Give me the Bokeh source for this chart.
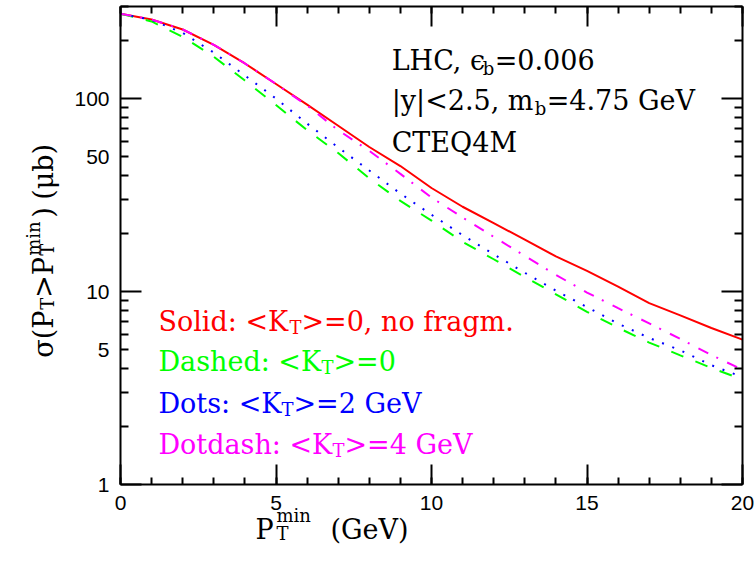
import math
from bokeh.plotting import figure
from bokeh.models import (FixedTicker, LinearAxis, Label, BasicTickFormatter, Range1d,
                          CustomLabelingPolicy, Grid)
from bokeh.embed import file_html
from bokeh.resources import INLINE

# ---------------- data ----------------
pt_min = [0, 1, 2, 3, 4, 5, 6, 7, 8, 9, 10, 11, 12, 13, 14, 15, 16, 17, 18, 19, 20]
sigma_solid = [275, 257, 228, 190, 152, 119, 93, 72.3, 56.1, 44.7, 34.4, 27.5, 22.6,
               18.6, 15.2, 12.8, 10.6, 8.71, 7.53, 6.47, 5.63]
sigma_dashed = [275, 251, 209, 164.8, 124, 92.6, 68.6, 52.2, 38.6, 29.5, 23.3, 18.1,
                14.7, 11.9, 9.67, 7.85, 6.49, 5.44, 4.67, 4.02, 3.50]
sigma_dots = [275, 256, 219, 173, 131.7, 100, 74.2, 55.8, 42.4, 32.2, 25.0, 19.6,
              15.6, 12.5, 10.1, 8.31, 6.82, 5.75, 4.96, 4.15, 3.60]
sigma_dotdash = [275, 257, 228, 190, 152, 119, 92, 68.6, 53.6, 40.7, 30.7, 24.2,
                 19.2, 15.3, 12.2, 9.88, 8.2, 6.84, 5.68, 4.69, 3.93]

x_major = [0, 5, 10, 15, 20]
x_minor = list(range(0, 21))
y_major = [1, 10, 100]
y_minor_labeled = [5, 50]
y_minor_plain = [2, 3, 4, 6, 7, 8, 9, 20, 30, 40, 60, 70, 80, 90, 200, 300]

# plot box limits
X_LO, X_HI = 0, 20
Y_LO, Y_HI = 1, 300

SERIF = "DejaVu Serif"
TICK_FONT = "Liberation Sans"

W, H = 755, 562
PAD_L, PAD_R, PAD_T, PAD_B = 120, 13, 6, 78
px_per_x = (W - PAD_L - PAD_R) / (X_HI - X_LO)
px_per_dec = (H - PAD_T - PAD_B) / math.log10(Y_HI / Y_LO)
xr = Range1d(X_LO - PAD_L / px_per_x, X_HI + PAD_R / px_per_x)
yr = Range1d(Y_LO * 10 ** (-PAD_B / px_per_dec), Y_HI * 10 ** (PAD_T / px_per_dec))

p = figure(width=W, height=H, x_range=xr, y_range=yr, y_axis_type="log",
           x_axis_location=None, y_axis_location=None,
           output_backend="svg", toolbar_location=None, min_border=0,
           background_fill_color="white", border_fill_color="white")
p.outline_line_color = None
for g in p.select(type=Grid):
    g.visible = False
    g.grid_line_color = None
    g.minor_grid_line_color = None

HIDE_ALL = "for (const i of indices) { indices.unset(i) }\nreturn indices"


def make_axis(side, loc, bounds, ticks, minor, major_in, minor_in,
              labels=True, line=True):
    ax = LinearAxis(ticker=FixedTicker(ticks=ticks, minor_ticks=minor),
                    formatter=BasicTickFormatter(), fixed_location=loc, bounds=bounds)
    ax.axis_line_color = "black" if line else None
    ax.axis_line_width = 2
    ax.major_tick_in = major_in
    ax.major_tick_out = 0
    ax.minor_tick_in = minor_in
    ax.minor_tick_out = 0
    ax.major_tick_line_width = 2
    ax.minor_tick_line_width = 2
    ax.major_tick_line_color = "black"
    ax.minor_tick_line_color = "black"
    ax.major_label_text_font = TICK_FONT
    ax.major_label_text_font_size = "21px"
    ax.major_label_text_color = "black"
    ax.major_label_standoff = 11
    if not labels:
        ax.major_label_policy = CustomLabelingPolicy(code=HIDE_ALL)
    p.add_layout(ax, side)
    return ax


# bottom / top (x)
make_axis("below", Y_LO, (X_LO, X_HI), x_major, x_minor, 20, 7)
make_axis("above", Y_HI, (X_LO, X_HI), x_major, x_minor, 20, 7, labels=False)
# left (y)
make_axis("left", X_LO, (Y_LO, Y_HI), y_major, [], 21, 0)
make_axis("left", X_LO, (Y_LO, Y_HI), y_minor_labeled, [], 8, 0, line=False)
make_axis("left", X_LO, (Y_LO, Y_HI), y_minor_plain, [], 8, 0, labels=False, line=False)
# right (y)
make_axis("right", X_HI, (Y_LO, Y_HI), y_major, [], 21, 0, labels=False)
make_axis("right", X_HI, (Y_LO, Y_HI), y_minor_labeled + y_minor_plain, [], 8, 0,
          labels=False, line=False)

# ---------------- curves ----------------
p.line(pt_min, sigma_solid, line_color="#ff0000", line_width=2)
p.line(pt_min, sigma_dashed, line_color="#00ff00", line_width=2, line_dash="13 13")
p.line(pt_min, sigma_dots, line_color="#0000ff", line_width=2, line_dash="2 9")
p.line(pt_min, sigma_dotdash, line_color="#ff00ff", line_width=2, line_dash="11 9 2 10")


# ---------------- texts ----------------
def put(x, y, text, color="black", size=27, dx=0, dy=0, angle=0.0):
    p.add_layout(Label(x=x, y=y, text=text, text_color=color, text_font=SERIF,
                       text_font_size=f"{size}px", text_baseline="alphabetic",
                       text_align="left", x_offset=dx, y_offset=dy, angle=angle))


SUB = 18
# top right block
put(8.72, 157.7, "LHC, \u03f5")
put(8.72, 157.7, "b", size=SUB, dx=91, dy=-8)
put(8.72, 157.7, "=0.006", dx=103)
put(8.72, 97.8, "|y|<2.5, m")
put(8.72, 97.8, "b", size=SUB, dx=143, dy=-8)
put(8.72, 97.8, "=4.75 GeV", dx=155)
put(8.72, 59.4, "CTEQ4M")

# legend block
legend_rows = [
    ("Solid: <K", ">=0, no fragm.", "#ff0000", 6.97, 130),
    ("Dashed: <K", ">=0", "#00ff00", 4.32, 162),
    ("Dots: <K", ">=2 GeV", "#0000ff", 2.64, 122),
    ("Dotdash: <K", ">=4 GeV", "#ff00ff", 1.617, 173),
]
for head, tail, col, yy, w in legend_rows:
    put(1.22, yy, head, color=col)
    put(1.22, yy, "T", color=col, size=SUB, dx=w + 1, dy=-6)
    put(1.22, yy, tail, color=col, dx=w + 13)

# x axis title
put(4.34, 0.5875, "P")
put(4.34, 0.5875, "T", size=SUB, dx=21, dy=-4)
put(4.34, 0.5875, "min", size=SUB, dx=21, dy=14)
put(4.34, 0.5875, "(GeV)", dx=75)

# y axis title (rotated)
A = math.pi / 2
yx, yy0 = -2.477, 4.535
put(yx, yy0, "\u03c3(P", angle=A)
put(yx, yy0, "T", size=SUB, angle=A, dy=48, dx=4)
put(yx, yy0, ">P", angle=A, dy=60)
put(yx, yy0, "min", size=SUB, angle=A, dy=102, dx=-10)
put(yx, yy0, "T", size=SUB, angle=A, dy=102, dx=4)
put(yx, yy0, ")", angle=A, dy=140)
put(yx, yy0, "(\u03bcb)", angle=A, dy=158)

open("out.html", "w").write(file_html(p, INLINE))
